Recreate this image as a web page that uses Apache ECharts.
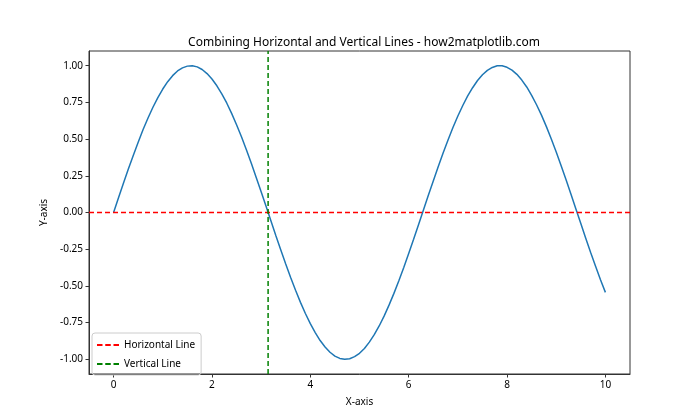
<!DOCTYPE html>
<html><head><meta charset="utf-8">
<script src="https://cdn.jsdelivr.net/npm/echarts@6/dist/echarts.min.js"></script>
<style>html,body{margin:0;padding:0;background:#fff}#c{width:700px;height:420px}</style>
</head><body><div id="c"></div>
<script>
const xValues = [0,0.1,0.2,0.3,0.4,0.5,0.6,0.7,0.8,0.9,1,1.1,1.2,1.3,1.4,1.5,1.6,1.7,1.8,1.9,2,2.1,2.2,2.3,2.4,2.5,2.6,2.7,2.8,2.9,3,3.1,3.2,3.3,3.4,3.5,3.6,3.7,3.8,3.9,4,4.1,4.2,4.3,4.4,4.5,4.6,4.7,4.8,4.9,5,5.1,5.2,5.3,5.4,5.5,5.6,5.7,5.8,5.9,6,6.1,6.2,6.3,6.4,6.5,6.6,6.7,6.8,6.9,7,7.1,7.2,7.3,7.4,7.5,7.6,7.7,7.8,7.9,8,8.1,8.2,8.3,8.4,8.5,8.6,8.7,8.8,8.9,9,9.1,9.2,9.3,9.4,9.5,9.6,9.7,9.8,9.9,10];
const yValues = [0,0.100,0.199,0.296,0.389,0.479,0.565,0.644,0.717,0.783,0.841,0.891,0.932,0.964,0.985,0.997,1.000,0.992,0.974,0.946,0.909,0.863,0.808,0.746,0.675,0.598,0.516,0.427,0.335,0.239,0.141,0.042,-0.058,-0.158,-0.256,-0.351,-0.443,-0.530,-0.612,-0.688,-0.757,-0.818,-0.872,-0.916,-0.952,-0.978,-0.994,-1.000,-0.996,-0.982,-0.959,-0.926,-0.883,-0.832,-0.773,-0.706,-0.631,-0.551,-0.465,-0.374,-0.279,-0.182,-0.083,0.017,0.117,0.215,0.312,0.405,0.494,0.579,0.657,0.729,0.794,0.850,0.899,0.938,0.968,0.988,0.999,0.999,0.989,0.970,0.941,0.902,0.855,0.798,0.734,0.663,0.585,0.501,0.412,0.319,0.223,0.124,0.024,-0.075,-0.175,-0.272,-0.366,-0.458,-0.544];
const hLineY = 0;
const vLineX = 3.1416;
const xTicks = [0,2,4,6,8,10];
const yTicks = [-1.0,-0.75,-0.5,-0.25,0,0.25,0.5,0.75,1.0];
const xRange = [-0.5, 10.5];
const yRange = [-1.1, 1.1];

const font = '"Noto Sans", "DejaVu Sans", sans-serif';
const dashIcon = 'path://M0,0h6v2h-6z M9,0h6v2h-6z M18,0h6v2h-6z';
const chart = echarts.init(document.getElementById('c'));
chart.setOption({
  animation: false,
  backgroundColor: '#fff',
  title: {text: 'Combining Horizontal and Vertical Lines - how2matplotlib.com', left: 359, top: 32, textAlign: 'center',
    textStyle: {fontFamily: font, fontSize: 12, fontWeight: 'normal', color: '#000'}},
  grid: {left: 89, right: 70, top: 51, bottom: 46, show: true, borderColor: '#333', borderWidth: 1, backgroundColor: '#fff'},
  legend: {
    left: 92, top: 333, orient: 'vertical', itemWidth: 22, itemHeight: 2, itemGap: 9,
    padding: [7, 6, 6, 5], borderColor: '#ccc', borderWidth: 1, borderRadius: 3,
    textStyle: {fontFamily: font, fontSize: 10, color: '#000'},
    data: [{name: 'Horizontal Line', icon: dashIcon}, {name: 'Vertical Line', icon: dashIcon}]
  },
  xAxis: {type: 'value', min: xRange[0], max: xRange[1], name: 'X-axis', nameLocation: 'middle', nameGap: 23,
    nameTextStyle: {fontFamily: font, fontSize: 10, color: '#000'},
    splitLine: {show: false},
    axisLine: {show: true, onZero: false, lineStyle: {color: '#333'}},
    axisTick: {show: true, length: 3.5, customValues: xTicks, lineStyle: {color: '#333'}},
    axisLabel: {customValues: xTicks, fontFamily: font, fontSize: 10, color: '#000', margin: 6}},
  yAxis: {type: 'value', min: yRange[0], max: yRange[1], name: 'Y-axis', nameLocation: 'middle', nameGap: 39,
    nameTextStyle: {fontFamily: font, fontSize: 10, color: '#000'},
    splitLine: {show: false},
    axisLine: {show: true, onZero: false, lineStyle: {color: '#333'}},
    axisTick: {show: true, length: 3.5, customValues: yTicks, lineStyle: {color: '#333'}},
    axisLabel: {customValues: yTicks, fontFamily: font, fontSize: 10, color: '#000', margin: 6,
      formatter: v => v.toFixed(2)}},
  series: [
    {type: 'line', name: 'sin', data: xValues.map((x, i) => [x, yValues[i]]), showSymbol: false, symbol: 'none',
      lineStyle: {color: '#1f77b4', width: 1.5}, itemStyle: {color: '#1f77b4'}, z: 2},
    {type: 'line', name: 'Horizontal Line', data: [[xRange[0], hLineY], [xRange[1], hLineY]], showSymbol: false, symbol: 'none',
      lineStyle: {color: '#ff0000', width: 1.5, type: [5, 3]}, itemStyle: {color: '#ff0000'}, z: 3},
    {type: 'line', name: 'Vertical Line', data: [[vLineX, yRange[0]], [vLineX, yRange[1]]], showSymbol: false, symbol: 'none',
      lineStyle: {color: '#008000', width: 1.5, type: [5, 3]}, itemStyle: {color: '#008000'}, z: 3}
  ]
});
</script></body></html>
